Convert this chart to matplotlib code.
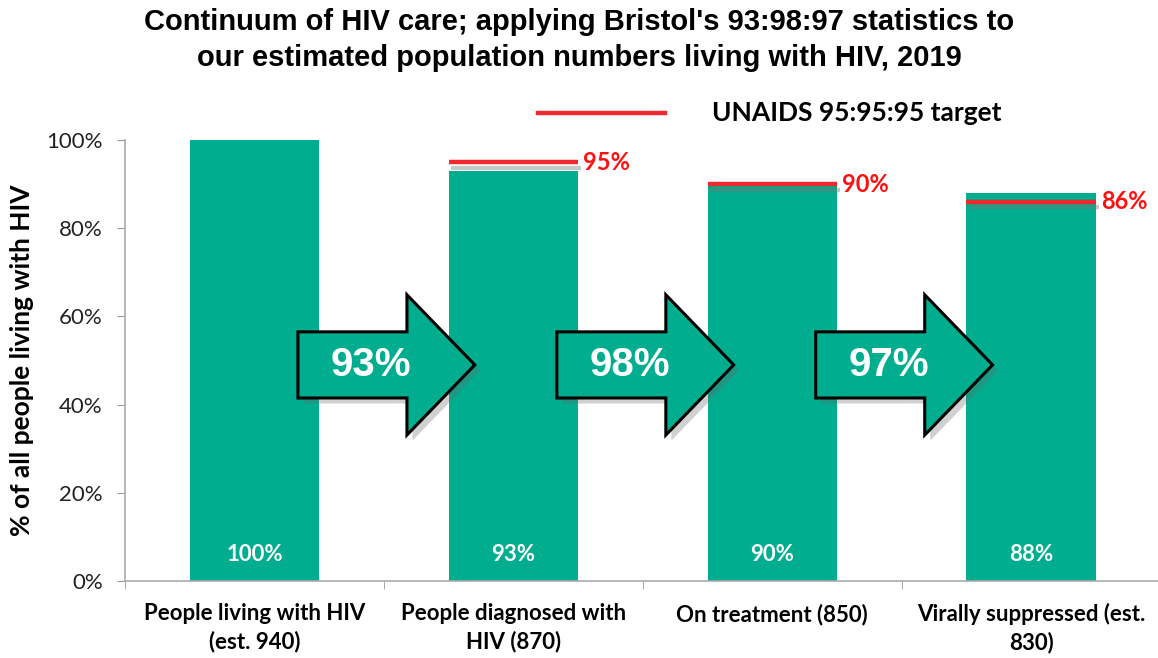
import matplotlib.pyplot as plt
import matplotlib.patheffects as pe
from matplotlib.patches import Polygon
from matplotlib.lines import Line2D

# data
stages = ['People living with HIV\n(est. 940)', 'People diagnosed with\nHIV (870)',
          'On treatment (850)', 'Virally suppressed (est.\n830)']
pct = [100, 93, 90, 88]
target_idx = [1, 2, 3]
target_pct = [95, 90, 86]
step_pct = [93, 98, 97]

TEAL = '#00AE8F'
RED = '#EE2A2E'
BODY = 'Lato'

fig = plt.figure(figsize=(11.58, 6.58), dpi=100)
ax = fig.add_axes([125 / 1158, 1 - 581 / 658, 1033 / 1158, 441 / 658])

x = list(range(len(stages)))
ax.bar(x, pct, width=0.5, color=TEAL, zorder=2)
for xi, v in zip(x, pct):
    ax.text(xi, 6, f'{v}%', ha='center', va='center', color='white',
            fontsize=16, family=BODY, fontweight='bold', zorder=5)

# UNAIDS target lines with a soft shadow
for i, t in zip(target_idx, target_pct):
    ax.plot([i - 0.25, i + 0.25], [t, t], color=RED, lw=3.2, zorder=4,
            solid_capstyle='butt',
            path_effects=[pe.SimpleLineShadow(offset=(2, -4), shadow_color='#777777', alpha=0.4),
                          pe.Normal()])
    ax.text(i + 0.27, t, f'{t}%', ha='left', va='center', color='#FF1010',
            fontsize=17, family=BODY, fontweight='bold', zorder=5)

# step arrows between bars (shape in bar-slot units)
arrow_shape = [(0.168, 41.5), (0.168, 56.5), (0.589, 56.5), (0.589, 64.9),
               (0.851, 49.0), (0.589, 33.1), (0.589, 41.5)]
for i, s in enumerate(step_pct):
    pts = [(px + i, py) for px, py in arrow_shape]
    poly = Polygon(pts, closed=True, facecolor=TEAL, edgecolor='black', lw=2.2,
                   joinstyle='miter', zorder=6,
                   path_effects=[pe.SimplePatchShadow(offset=(4, -4), shadow_rgbFace='#666666', alpha=0.3),
                                 pe.Normal()])
    ax.add_patch(poly)
    ax.text(i + 0.45, 49, f'{s}%', ha='center', va='center', color='white',
            fontsize=29, family='Liberation Sans', fontweight='bold', zorder=7)

ax.set_xlim(-0.5, 3.49)
ax.set_ylim(0, 100)
ax.set_yticks(range(0, 101, 20))
ax.set_yticklabels([f'{v}%' for v in range(0, 101, 20)], fontsize=16, family=BODY, color='#222222')
ax.set_xticks(x)
ax.set_xticklabels(stages, fontsize=16, family=BODY, fontweight='bold', color='black',
                   linespacing=1.35)
ax.set_xticks([-0.5, 0.5, 1.5, 2.5], minor=True)
ax.tick_params(axis='x', which='major', length=0, pad=16)
ax.tick_params(axis='x', which='minor', length=6, color='#999999')
ax.tick_params(axis='y', length=6, color='#999999', pad=10)
for side in ['top', 'right']:
    ax.spines[side].set_visible(False)
for side in ['left', 'bottom']:
    ax.spines[side].set_color('#AAAAAA')
    ax.spines[side].set_linewidth(1.2)
ax.set_ylabel('% of all people living with HIV', fontsize=19, family=BODY,
              fontweight='bold')
ax.yaxis.set_label_coords(-0.088, 0.5)

# legend drawn in figure coords
fig.add_artist(Line2D([538 / 1158, 665 / 1158], [1 - 113 / 658] * 2, color=RED, lw=3.2,
                      transform=fig.transFigure))
fig.text(712 / 1158, 1 - 113 / 658, 'UNAIDS 95:95:95 target', ha='left', va='center',
         fontsize=19, family=BODY, fontweight='bold')

fig.text(0.5, 1 - 40 / 658,
         "Continuum of HIV care; applying Bristol's 93:98:97 statistics to\n"
         "our estimated population numbers living with HIV, 2019",
         ha='center', va='center', fontsize=21, family='Liberation Sans',
         fontweight='bold', linespacing=1.4)

fig.savefig('out.png', dpi=100)
